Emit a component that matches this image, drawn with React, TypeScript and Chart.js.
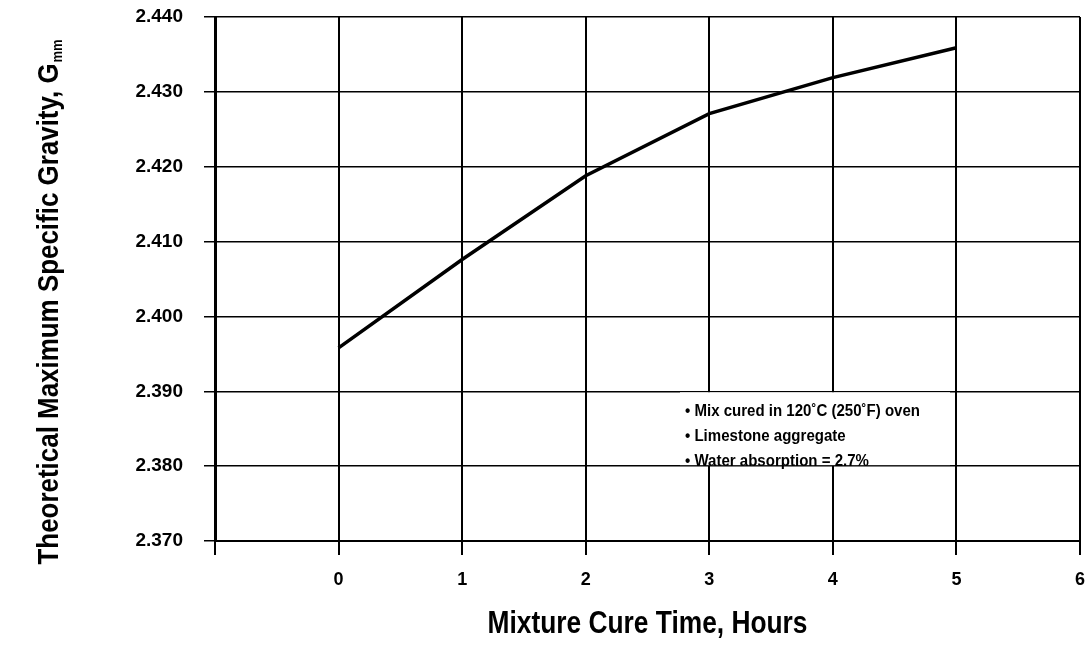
import React, { useEffect, useRef } from "react";
import { Chart, registerables } from "chart.js";

Chart.register(...registerables);

const cureHours = [0, 1, 2, 3, 4, 5];
const gmmValues = [2.3958, 2.4076, 2.4188, 2.4271, 2.4319, 2.4359];
const notes = [
  "\u2022 Mix cured in 120\u02daC (250\u02daF) oven",
  "\u2022 Limestone aggregate",
  "\u2022 Water absorption = 2.7%",
];
const xTitle = "Mixture Cure Time, Hours";
const yTitleMain = "Theoretical Maximum Specific Gravity, G";
const yTitleSub = "mm";

const FONT = "'Liberation Sans', Arial, sans-serif";

const textPlugin = {
  id: "textPlugin",
  beforeDatasetsDraw(chart: any) {
    const ctx = chart.ctx;
    const y = chart.scales.y;
    const top = y.getPixelForValue(2.39) + 1;
    const bottom = y.getPixelForValue(2.38) - 1;
    ctx.save();
    ctx.fillStyle = "#fff";
    ctx.fillRect(680, top, 270, bottom - top);
    ctx.restore();
  },
  afterDraw(chart: any) {
    const ctx = chart.ctx;
    const area = chart.chartArea;
    ctx.save();
    ctx.fillStyle = "#000";
    ctx.font = `bold 31px ${FONT}`;
    ctx.textBaseline = "alphabetic";
    ctx.textAlign = "center";
    const wx = ctx.measureText(xTitle).width;
    const sx = 320 / wx;
    ctx.translate((area.left + area.right) / 2, 633);
    ctx.scale(sx, 1);
    ctx.fillText(xTitle, 0, 0);
    ctx.restore();

    ctx.save();
    ctx.fillStyle = "#000";
    ctx.translate(58, 302);
    ctx.rotate(-Math.PI / 2);
    ctx.font = `bold 30px ${FONT}`;
    const wMain = ctx.measureText(yTitleMain).width;
    ctx.font = `bold 15px ${FONT}`;
    const wSub = ctx.measureText(yTitleSub).width;
    const total = wMain + wSub + 1;
    const sy = 525 / total;
    ctx.scale(sy, 1);
    ctx.textAlign = "left";
    const start = -total / 2;
    ctx.font = `bold 30px ${FONT}`;
    ctx.fillText(yTitleMain, start, 0);
    ctx.font = `bold 15px ${FONT}`;
    ctx.fillText(yTitleSub, start + wMain + 1, 4);
    ctx.restore();

    ctx.save();
    ctx.fillStyle = "#000";
    ctx.font = `bold 16px ${FONT}`;
    ctx.textAlign = "left";
    ctx.textBaseline = "middle";
    const wn = ctx.measureText(notes[0]).width;
    const sn = 235 / wn;
    ctx.translate(685, 0);
    ctx.scale(sn, 1);
    notes.forEach((t, i) => {
      ctx.fillText(t, 0, 412 + i * 25);
    });
    ctx.restore();
  },
};

export default function App() {
  const ref = useRef<HTMLCanvasElement | null>(null);
  useEffect(() => {
    document.body.style.margin = "0";
    let chart: any = null;
    let cancelled = false;
    const make = () => {
      if (cancelled || !ref.current) return;
      chart = new Chart(ref.current as HTMLCanvasElement, {
        type: "scatter",
        data: {
          datasets: [
            {
              data: cureHours.map((x, i) => ({ x, y: gmmValues[i] })),
              showLine: true,
              borderColor: "#000",
              borderWidth: 3.5,
              pointRadius: 0,
              tension: 0,
            },
          ],
        },
        options: {
          animation: false,
          responsive: true,
          maintainAspectRatio: false,
          layout: { padding: { left: 0, top: 17, right: 6, bottom: 0 } },
          plugins: { legend: { display: false }, tooltip: { enabled: false } },
          scales: {
            x: {
              type: "linear",
              min: -1,
              max: 6,
              afterFit(scale: any) {
                scale.height = 109;
                scale.paddingLeft = 0;
                scale.paddingRight = 0;
              },
              ticks: {
                stepSize: 1,
                color: "#000",
                padding: 14,
                font: { family: FONT, size: 18, weight: "bold" },
                callback: (v: any) => (v < 0 ? "" : String(v)),
              },
              grid: { color: "#000", lineWidth: 2, tickLength: 14 },
              border: { color: "#000", width: 2 },
            },
            y: {
              min: 2.37,
              max: 2.44,
              afterFit(scale: any) {
                scale.width = 215;
                scale.paddingTop = 0;
                scale.paddingBottom = 0;
              },
              ticks: {
                stepSize: 0.01,
                color: "#000",
                padding: 21,
                font: { family: FONT, size: 19, weight: "bold" },
                callback: (v: any) => Number(v).toFixed(3),
              },
              grid: { color: "#000", lineWidth: 1.5, tickLength: 11 },
              border: { color: "#000", width: 3 },
            },
          },
        },
        plugins: [textPlugin],
      });
    };
    const fonts: any = (document as any).fonts;
    if (fonts && fonts.load) {
      fonts
        .load(`bold 20px 'Liberation Sans'`)
        .catch(() => null)
        .then(() => make());
    } else {
      make();
    }
    return () => {
      cancelled = true;
      if (chart) chart.destroy();
    };
  }, []);
  return (
    <div style={{ position: "absolute", left: 0, top: 0, width: 1086, height: 650, background: "#fff" }}>
      <canvas ref={ref} />
    </div>
  );
}
